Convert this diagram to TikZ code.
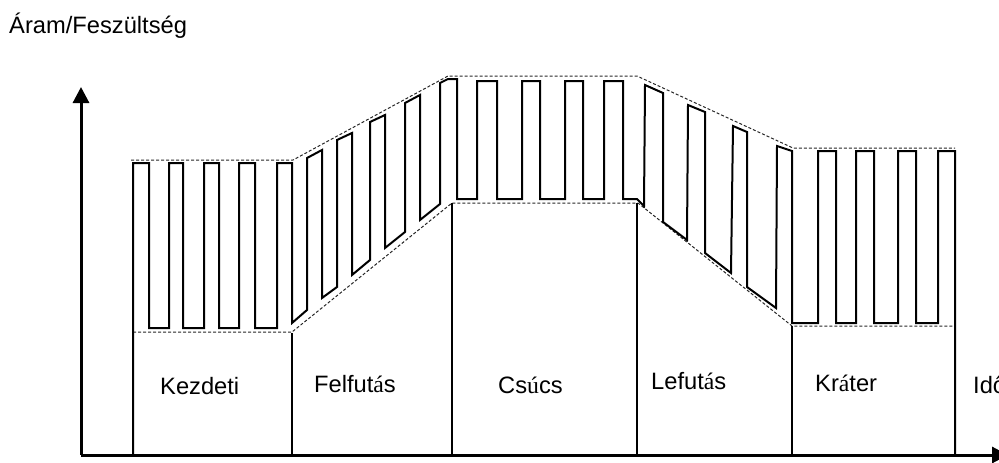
\documentclass[tikz,border=0pt]{standalone}
\usepackage{fontspec}
\setmainfont{Liberation Sans}
\newfontfamily\accfont{Liberation Serif}
\usetikzlibrary{arrows.meta}
\begin{document}
\begin{tikzpicture}[x=1pt,y=-1pt,
  wave/.style={line width=2pt, line join=miter},
  envelope/.style={dash pattern=on 3pt off 2pt, line width=1pt, black!85},
  divider/.style={line width=1.6pt},
  axis/.style={line width=3pt},
  lbl/.style={anchor=base west, inner sep=0pt, font=\fontsize{23.7}{28}\selectfont}]
\useasboundingbox (0,0) rectangle (999,463);

% axes
\coordinate (O) at (81,455);
\coordinate (ytip) at (81,87);
\coordinate (xtip) at (1008,455);
\draw[axis,-{Triangle[length=16pt,width=16pt]}] (O) -- (ytip);
\draw[axis,-{Triangle[length=16pt,width=16pt]}] (O) -- (xtip);

% envelopes
\draw[envelope] (131,160) -- (293,160) -- (448,76) -- (637,76) -- (793,148) -- (955,148);
\draw[envelope] (133,332) -- (292,332) -- (452,203) -- (638,203) -- (792,326) -- (955,326);

% phase dividers
\draw[divider] (292,333) -- (292,455);
\draw[divider] (452,203) -- (452,455);
\draw[divider] (637,203) -- (637,455);
\draw[divider] (792,326) -- (792,455);

% waveform
\draw[wave] (133,455) -- (133,163) -- (149,163) -- (149,328) -- (169,328) -- (169,163) -- (183,163) -- (183,328)
 -- (204,328) -- (204,163) -- (219,163) -- (219,328) -- (239,328) -- (239,163) -- (255,163) -- (255,328)
 -- (277,328) -- (277,163) -- (292,163) -- (292,323)
 -- (307,310) -- (307,158) -- (322,150) -- (322,298)
 -- (337,287) -- (337,140) -- (352,133) -- (352,275)
 -- (370,260) -- (370,122) -- (385,115) -- (385,248)
 -- (405,232) -- (405,103) -- (420,95) -- (420,220)
 -- (440,204) -- (440,83) -- (448,79) -- (457,79) -- (457,199)
 -- (477,199) -- (477,81) -- (497,81) -- (497,199)
 -- (522,199) -- (522,81) -- (540,81) -- (540,199)
 -- (565,199) -- (565,81) -- (583,81) -- (583,199)
 -- (604,199) -- (604,81) -- (623,81) -- (623,199)
 -- (637,199) -- (644,206) -- (645,85) -- (663,93) -- (663,222)
 -- (687,240) -- (688,105) -- (705,112) -- (705,253)
 -- (731,273) -- (733,126) -- (747,132) -- (747,287)
 -- (776,308) -- (777,146) -- (792,151) -- (792,323)
 -- (818,323) -- (818,151) -- (836,151) -- (836,323)
 -- (856,323) -- (856,151) -- (874,151) -- (874,323)
 -- (898,323) -- (898,151) -- (916,151) -- (916,323)
 -- (938,323) -- (938,151) -- (955,151) -- (955,455);

% labels
\node[lbl] (ylabel) at (9,34) {Áram/Feszültség};
\node[lbl] (kezdeti) at (160,394) {Kezdeti};
\node[lbl] (felfutas) at (314,392) {Felfut{\accfont á}s};
\node[lbl] (csucs) at (498,393) {Cs{\accfont ú}cs};
\node[lbl] (lefutas) at (651,389) {Lefut{\accfont á}s};
\node[lbl] (krater) at (815,391) {Kr{\accfont á}ter};
\node[lbl] (ido) at (973,393) {Idő};
\end{tikzpicture}
\end{document}
